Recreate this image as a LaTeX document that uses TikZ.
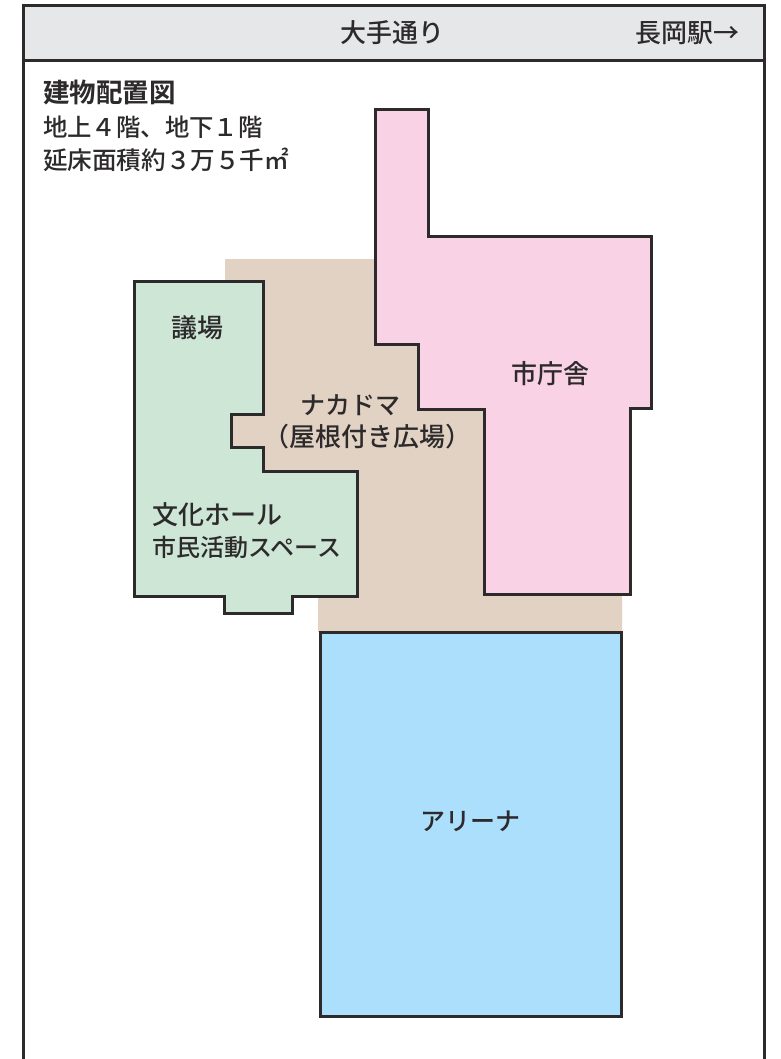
\documentclass[tikz,border=0pt]{standalone}
\usepackage{fontspec}
\setmainfont{Noto Sans CJK JP Medium}[BoldFont={Noto Sans CJK JP Bold}]
\definecolor{hdrgray}{HTML}{E6E7E9}
\definecolor{cityhall}{HTML}{F9D3E5}
\definecolor{hallgreen}{HTML}{CDE6D6}
\definecolor{plaza}{HTML}{E2D2C3}
\definecolor{arena}{HTML}{ABDFFC}
\definecolor{inkline}{HTML}{2D2A2B}
\begin{document}
\begin{tikzpicture}[x=1pt,y=-1pt]
	\tikzset{wall/.style={draw=inkline, line width=3pt, line join=miter},
		lbl/.style={text=inkline, inner sep=0pt, outer sep=0pt, font=\fontsize{#1}{32}\selectfont},
		lbl/.default={26}}
	\useasboundingbox (0,0) rectangle (780,1059);
	%Rahmen
	\fill[white] (0,0) rectangle (780,1059);
	\draw[wall,fill=hdrgray] (23.5,6) rectangle (764,61);
	\draw[wall] (23.5,61) -- (23.5,1065);
	\draw[wall] (764,61) -- (764,1065);
	\node[lbl, anchor=center] (street) at (392.5,33) {大手通り};
	\node[lbl, anchor=center] (station) at (687,33) {長岡駅→};
	%Legende
	\node[lbl=26.5, anchor=west, font=\bfseries\fontsize{26.5}{32}\selectfont] (title) at (43,92) {建物配置図};
	\node[lbl=24.4, anchor=west] (floors) at (43,127) {地上４階、地下１階};
	\node[lbl=24.6, anchor=west] (area) at (43,160) {延床面積約３万５千㎡};
	%Nakadoma
	\fill[plaza] (225,259) -- (380,259) -- (380,344) -- (622,344) -- (622,632)
		-- (318,632) -- (318,590) -- (225,590) -- cycle;
	\node[lbl=25, anchor=center] (nakadoma) at (350,405) {ナカドマ};
	\node[lbl, anchor=center] (roofed) at (367,437) {（屋根付き広場）};
	%Rathaus
	\draw[wall,fill=cityhall] (375,110) -- (428,110) -- (428,237) -- (651,237) -- (651,408)
		-- (630,408) -- (630,594) -- (484,594) -- (484,409) -- (418,409) -- (418,344)
		-- (375,344) -- cycle;
	\node[lbl, anchor=center] (hall) at (550,374) {市庁舎};
	%Kulturhalle
	\draw[wall,fill=hallgreen] (134,281) -- (263,281) -- (263,414) -- (231,414) -- (231,447)
		-- (263,447) -- (263,471) -- (357,471) -- (357,596) -- (292,596) -- (292,613)
		-- (224,613) -- (224,596) -- (134,596) -- cycle;
	\node[lbl, anchor=center] (council) at (197.5,328) {議場};
	\node[lbl, anchor=west] (culture) at (152,515) {文化ホール};
	\node[lbl=24, anchor=west] (civic) at (152,547) {市民活動スペース};
	%Arena
	\draw[wall,fill=arena] (320.5,632.5) rectangle (621,1016);
	\node[lbl=25, anchor=center] (arenalbl) at (470.5,821) {アリーナ};
\end{tikzpicture}
\end{document}
